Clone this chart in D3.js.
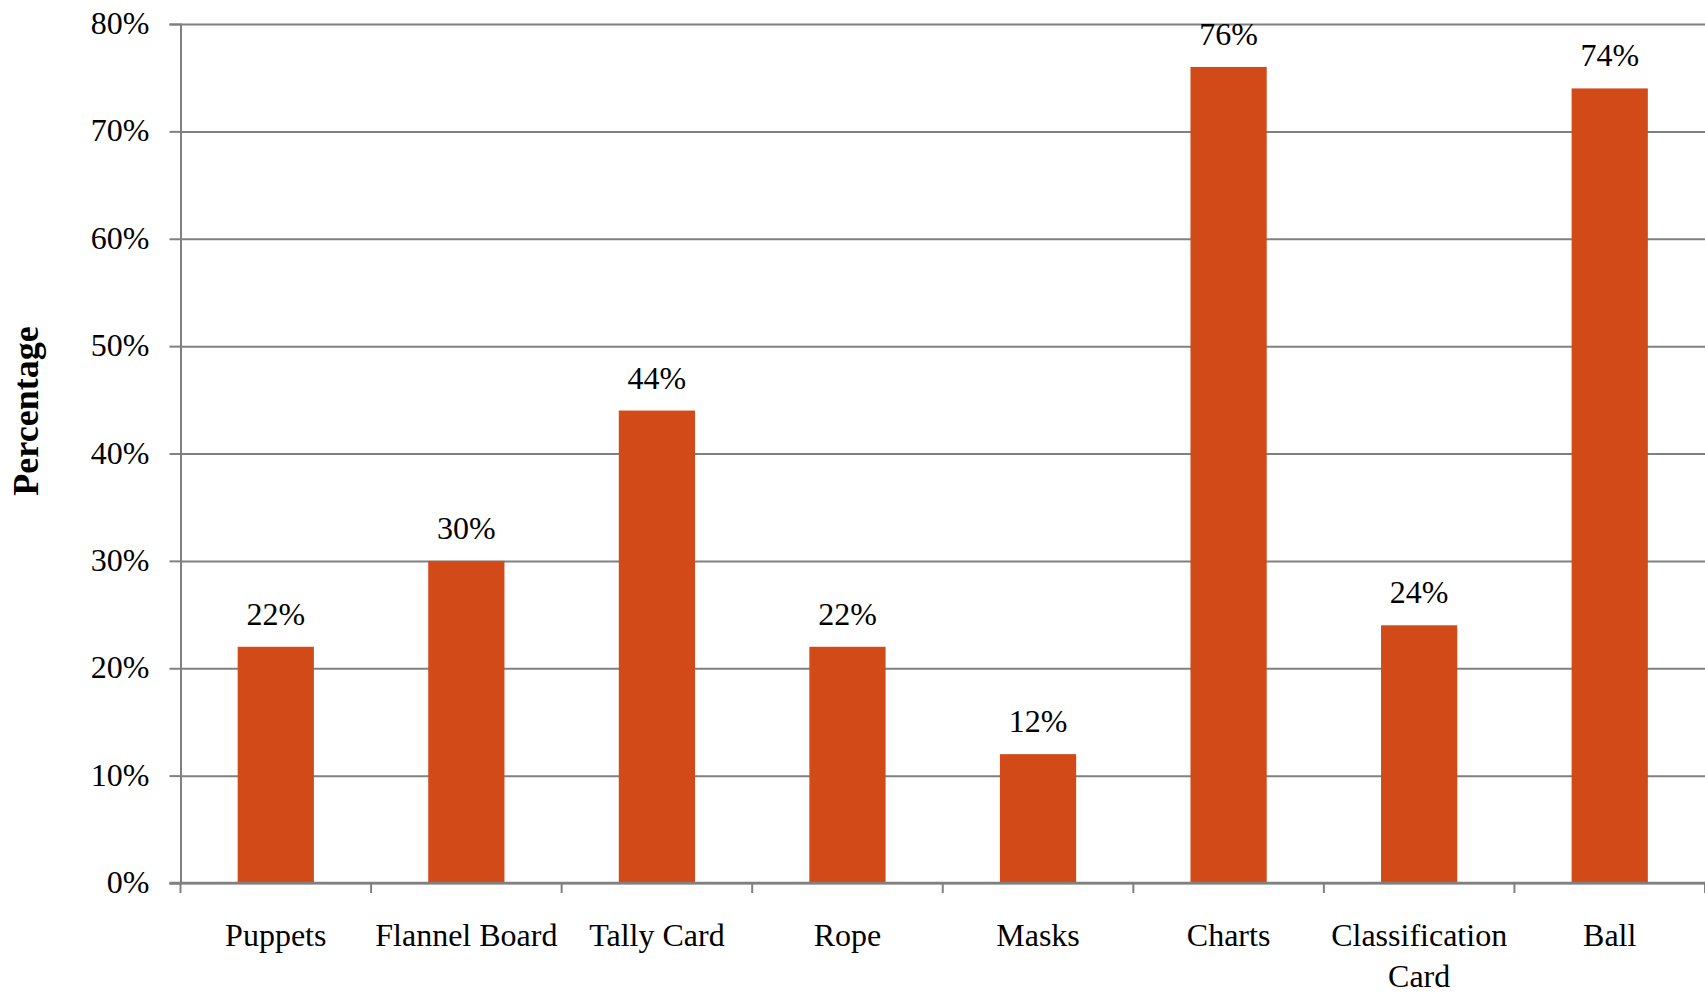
<!DOCTYPE html>
<html>
<head>
<meta charset="utf-8">
<script src="https://cdn.jsdelivr.net/npm/d3@7"></script>
<style>
  body { margin: 0; background: #fff; }
  svg { display: block; font-family: "Liberation Serif", "DejaVu Serif", serif; }
</style>
</head>
<body>
<div id="chart"></div>
<script>
// data
const categories = ["Puppets", "Flannel Board", "Tally Card", "Rope", "Masks", "Charts", "Classification Card", "Ball"];
const values = [22, 30, 44, 22, 12, 76, 24, 74];
const yTicks = [0, 10, 20, 30, 40, 50, 60, 70, 80];
const yTitle = "Percentage";

const width = 1705, height = 994;
const margin = { top: 24, right: 0, bottom: 111, left: 180.5 };
const barColor = "#D24A18";
const gridColor = "#808080";

const svg = d3.select("#chart").append("svg")
    .attr("width", width)
    .attr("height", height);

const x = d3.scaleBand()
    .domain(categories)
    .range([margin.left, width - margin.right])
    .paddingInner(0.6)
    .paddingOuter(0.3);

const y = d3.scaleLinear()
    .domain([0, 80])
    .range([height - margin.bottom, margin.top]);

// grid lines
svg.append("g")
    .attr("transform", `translate(${margin.left},0)`)
    .call(d3.axisLeft(y).tickValues(yTicks).tickSize(-(width - margin.left)).tickFormat(""))
    .call(g => g.select(".domain").remove())
    .call(g => g.selectAll("line").attr("stroke", gridColor).attr("stroke-width", 2));

// left axis with labels
svg.append("g")
    .attr("transform", `translate(${margin.left},0)`)
    .call(d3.axisLeft(y).tickValues(yTicks).tickSize(11).tickPadding(20).tickFormat(d => d + "%"))
    .call(g => g.select(".domain").attr("stroke", gridColor).attr("stroke-width", 2))
    .call(g => g.selectAll("line").attr("stroke", gridColor).attr("stroke-width", 2))
    .call(g => g.selectAll("text")
        .attr("fill", "#000")
        .attr("font-family", "Liberation Serif, serif")
        .attr("font-size", 32)
        .attr("dy", "0.3em"));

// bars
svg.append("g")
    .selectAll("rect")
    .data(categories)
    .enter().append("rect")
    .attr("x", d => x(d))
    .attr("y", (d, i) => y(values[i]))
    .attr("width", x.bandwidth())
    .attr("height", (d, i) => y(0) - y(values[i]))
    .attr("fill", barColor);

// value labels
svg.append("g")
    .selectAll("text")
    .data(categories)
    .enter().append("text")
    .attr("x", d => x(d) + x.bandwidth() / 2)
    .attr("y", (d, i) => y(values[i]) - 22)
    .attr("text-anchor", "middle")
    .attr("font-size", 32)
    .attr("fill", "#000")
    .text((d, i) => values[i] + "%");

// bottom axis line + ticks at category boundaries
const y0 = y(0);
const bottom = svg.append("g");
bottom.append("line")
    .attr("x1", margin.left - 11).attr("x2", width)
    .attr("y1", y0).attr("y2", y0)
    .attr("stroke", gridColor).attr("stroke-width", 2.5);
bottom.selectAll(".tick")
    .data(d3.range(categories.length + 1))
    .enter().append("line")
    .attr("class", "tick")
    .attr("x1", i => margin.left + i * x.step())
    .attr("x2", i => margin.left + i * x.step())
    .attr("y1", y0).attr("y2", y0 + 10)
    .attr("stroke", gridColor).attr("stroke-width", 2);

// category labels (wrap long ones)
const catLabels = svg.append("g")
    .selectAll("text")
    .data(categories)
    .enter().append("text")
    .attr("x", d => x(d) + x.bandwidth() / 2)
    .attr("y", y0 + 63)
    .attr("text-anchor", "middle")
    .attr("font-size", 32)
    .attr("fill", "#000")
    .text(d => d);

catLabels.each(function(d) {
    const t = d3.select(this);
    if (this.getComputedTextLength() <= x.step() - 4) return;
    const words = d.split(" ");
    t.text(null);
    words.forEach((w, i) => {
        t.append("tspan")
            .attr("x", x(d) + x.bandwidth() / 2)
            .attr("dy", i === 0 ? 0 : 41)
            .text(w);
    });
});

// y axis title
svg.append("text")
    .attr("transform", "translate(38,411) rotate(-90)")
    .attr("text-anchor", "middle")
    .attr("font-size", 36)
    .attr("font-weight", "bold")
    .attr("fill", "#000")
    .text(yTitle);
</script>
</body>
</html>
